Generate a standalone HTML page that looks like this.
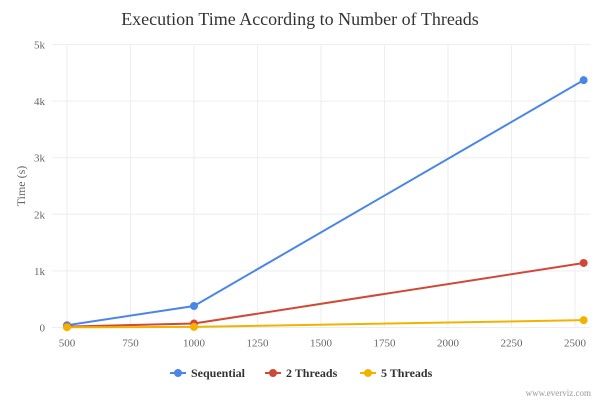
<!DOCTYPE html>
<html><head><meta charset="utf-8"><style>
body{margin:0;background:#fff;}
svg text{font-family:"Liberation Serif",serif;}
</style></head><body>
<svg width="600" height="400" id="c">
<text x="300" y="25" text-anchor="middle" font-size="18" fill="#333">Execution Time According to Number of Threads</text>
<text transform="translate(25,186) rotate(-90)" text-anchor="middle" font-size="12" fill="#666">Time (s)</text>
<text x="591" y="396" text-anchor="end" font-size="9" fill="#999">www.everviz.com</text>
</svg>
<script>
const xCats=[500,1000,2534];
const seqVals=[40,380,4370];
const t2Vals=[15,70,1140];
const t5Vals=[5,10,130];
const xTicks=[500,750,1000,1250,1500,1750,2000,2250,2500];
const yTicks=[0,1000,2000,3000,4000,5000];
const yLabels=["0","1k","2k","3k","4k","5k"];
const names=["Sequential","2 Threads","5 Threads"];
const colors=["#4a86e8","#d14836","#f2b300"];
const NS="http://www.w3.org/2000/svg",svg=document.getElementById('c');
const L=52,R=590,T=44.5,B=327.5,x0=441,x1=2559;
const X=v=>L+(v-x0)/(x1-x0)*(R-L), Y=v=>B-v/5000*(B-T);
function mk(t,a,p){const e=document.createElementNS(NS,t);for(const k in a)e.setAttribute(k,a[k]);(p||svg).appendChild(e);return e;}
xTicks.forEach(v=>{const l=mk('line',{x1:X(v),x2:X(v),y1:T,y2:B,stroke:'#eee'});


const t=mk('text',{x:X(v),y:B+19,'text-anchor':'middle','font-size':11,fill:'#666'});t.textContent=v;

});
yTicks.forEach((v,i)=>{const l=mk('line',{x1:L,x2:R,y1:Y(v),y2:Y(v),stroke:'#eee'});


const t=mk('text',{x:45,y:Y(v)+4,'text-anchor':'end','font-size':11,fill:'#666'});t.textContent=yLabels[i];

});
[seqVals,t2Vals,t5Vals].forEach((vals,s)=>{
const p=mk('polyline',{points:vals.map((v,i)=>X(xCats[i])+','+Y(v)).join(' '),fill:'none',stroke:colors[s],'stroke-width':2});


vals.forEach((v,i)=>{const c=mk('circle',{cx:X(xCats[i]),cy:Y(v),r:4,fill:colors[s]});

});});
const lx=[170,265,360];
names.forEach((n,s)=>{const g=mk('g',{});


mk('line',{x1:lx[s],x2:lx[s]+16,y1:373,y2:373,stroke:colors[s],'stroke-width':2},g);
mk('circle',{cx:lx[s]+8,cy:373,r:4,fill:colors[s]},g);
const t=mk('text',{x:lx[s]+21,y:377,'font-size':12,'font-weight':'bold',fill:'#333'},g);t.textContent=n;});
</script>
</body></html>
